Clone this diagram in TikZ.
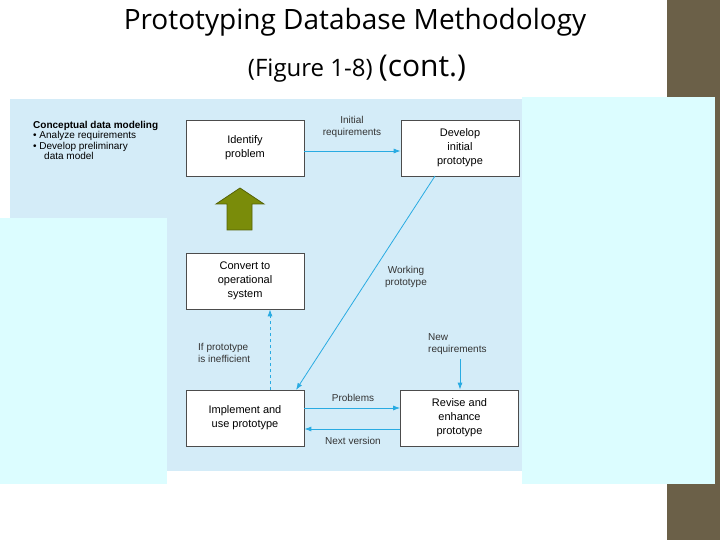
\documentclass[tikz,border=0pt]{standalone}
\usepackage{fontspec}
\usetikzlibrary{arrows.meta}
\setmainfont{Liberation Sans}
\newfontfamily\titlefont{Open Sans}
\definecolor{diag}{HTML}{D4ECF8}
\definecolor{pane}{HTML}{DCFDFF}
\definecolor{brownbar}{HTML}{6B6048}
\definecolor{lnk}{HTML}{29ABE2}
\definecolor{olive}{HTML}{7A8C0A}
\begin{document}
\begin{tikzpicture}[x=1pt,y=-1pt,
  box/.style={draw=black!70,fill=white,line width=0.7pt,minimum width=118pt,minimum height=56pt,align=center,font=\fontsize{11}{14}\selectfont,inner sep=1pt},
  lab/.style={font=\fontsize{10}{11.5}\selectfont,text=black!80,align=center,inner sep=1pt},
  conn/.style={draw=lnk,line width=0.8pt,-{Latex[length=7pt,width=5pt]}}]
\useasboundingbox (0,0) rectangle (720,540);
\fill[white] (0,0) rectangle (720,540);
\fill[brownbar] (667,0) rectangle (720,540);
\fill[diag] (10,99) rectangle (522,471);
\fill[pane] (0,218) rectangle (167,484);
\fill[pane] (522,97) rectangle (715,484);
\node[font=\titlefont\fontsize{28}{30}\selectfont] (t1) at (355,22) {Prototyping Database Methodology};
\node[font=\titlefont\fontsize{24}{30}\selectfont] (t2) at (357,69) {(Figure 1-8) {\fontsize{30}{30}\selectfont(cont.)}};
\node[anchor=north west,align=left,inner sep=0pt,font=\fontsize{10}{11.5}\selectfont] (cdm) at (33,121) {\textbf{Conceptual data modeling}\\[-1pt]
\textbullet\ Analyze requirements\\[-1pt]
\textbullet\ Develop preliminary\\[-1pt]
\hspace*{1.1em}data model};
\node[box] (ip) at (245,148) {Identify\\problem};
\node[box] (dp) at (460,148) {Develop\\initial\\prototype};
\node[box] (cv) at (245,281) {Convert to\\operational\\system};
\node[box] (im) at (245,418) {Implement and\\use prototype};
\node[box] (rv) at (459.5,418) {Revise and\\enhance\\prototype};
\draw[conn] (ip.east |- 0,151) -- (dp.west |- 0,151);
\node[lab] (l1) at (352,127) {Initial\\requirements};
\draw[conn] (435,176) -- (296,390);
\node[lab] (l2) at (406,277) {Working\\prototype};
\node[lab,anchor=west,align=left] (l3) at (427,344) {New\\requirements};
\coordinate (nr) at (460,359);
\draw[conn] (nr) -- (rv.north -| nr);
\draw[conn] (im.east |- 0,408) -- (rv.west |- 0,408);
\node[lab] (l4) at (353,398) {Problems};
\draw[conn] (rv.west |- 0,429) -- (im.east |- 0,429);
\node[lab] (l5) at (353,441) {Next version};
\draw[conn,dashed] (270,390) -- (cv.south -| 270,0);
\node[lab,anchor=west,align=left] (l6) at (197,353) {If prototype\\is inefficient};
\draw[fill=olive,draw=olive!70!black,line width=0.8pt] (227,230) -- (227,204) -- (216,204) -- (240,188) -- (264,204) -- (252,204) -- (252,230) -- cycle;
\end{tikzpicture}
\end{document}
